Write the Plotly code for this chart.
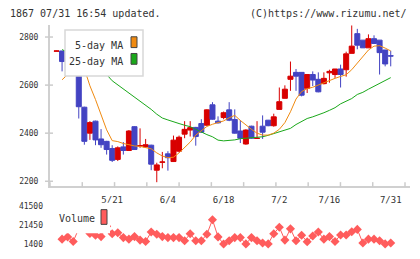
import plotly.graph_objects as go

# ---- data ----
dates = ["5/7","5/8","5/9","5/10","5/13","5/14","5/15","5/16","5/17","5/20",
         "5/21","5/22","5/23","5/24","5/27","5/28","5/29","5/30","5/31","6/3",
         "6/4","6/5","6/6","6/7","6/10","6/11","6/12","6/13","6/14","6/17",
         "6/18","6/19","6/20","6/21","6/24","6/25","6/26","6/27","6/28","7/1",
         "7/2","7/3","7/4","7/5","7/8","7/9","7/10","7/11","7/12","7/16",
         "7/17","7/18","7/19","7/22","7/23","7/24","7/25","7/26","7/29","7/30","7/31"]
opens  = [2741,2742,2709,2706,2698,2508,2400,2450,2376,2366,
          2336,2291,2343,2328,2427,2347,2343,2350,2246,2279,
          2314,2282,2325,2396,2413,2424,2440,2433,2518,2450,
          2465,2497,2457,2409,2355,2429,2378,2429,2454,2431,
          2499,2545,2624,2653,2653,2587,2644,2624,2606,2651,
          2644,2667,2664,2732,2814,2787,2755,2793,2787,2746,2722]
highs  = [2743,2742,2734,2739,2712,2510,2450,2452,2417,2368,
          2350,2345,2363,2413,2429,2420,2376,2352,2277,2322,
          2325,2390,2390,2450,2450,2426,2458,2499,2529,2470,
          2490,2529,2499,2454,2416,2431,2450,2474,2455,2481,
          2590,2599,2698,2667,2653,2644,2657,2653,2653,2664,
          2667,2685,2739,2848,2834,2787,2811,2807,2787,2746,2743]
lows   = [2741,2657,2697,2698,2461,2352,2372,2350,2339,2311,
          2280,2284,2311,2326,2330,2339,2339,2246,2196,2254,
          2244,2280,2320,2379,2386,2348,2402,2431,2456,2440,
          2458,2450,2398,2359,2352,2377,2376,2376,2429,2427,
          2499,2545,2576,2576,2553,2567,2596,2570,2603,2610,
          2630,2590,2635,2732,2749,2755,2755,2773,2644,2678,2678]
closes = [2742,2698,2708,2705,2510,2366,2444,2372,2352,2332,
          2287,2339,2328,2409,2332,2348,2352,2271,2268,2280,
          2298,2371,2383,2416,2423,2386,2404,2497,2458,2443,
          2485,2454,2400,2379,2413,2379,2379,2404,2431,2468,
          2531,2583,2637,2637,2558,2644,2621,2572,2628,2657,
          2667,2644,2730,2762,2766,2755,2793,2773,2735,2688,2721]
ma5  = [None,2622,2644,2652,2656,2668,2597,2540,2481,2414,
        2369,2365,2357,2351,2347,2345,2339,2335,2318,2305,
        2298,2300,2318,2339,2363,2392,2412,2428,2437,2445,
        2451,2464,2474,2453,2433,2416,2400,2392,2392,2400,
        2416,2444,2489,2542,2573,2585,2591,2601,2611,2620,
        2628,2636,2643,2664,2693,2721,2746,2762,2764,2754,2742]
ma25 = [None,2748,2737,2723,2710,2697,2684,2670,2657,2644,
        2618,2601,2586,2567,2550,2532,2518,2499,2479,2463,
        2455,2446,2440,2433,2427,2416,2404,2394,2385,2371,
        2368,2369,2372,2377,2379,2380,2382,2385,2391,2398,
        2406,2412,2420,2436,2449,2461,2468,2475,2485,2495,
        2506,2522,2534,2544,2561,2570,2583,2595,2605,2620,2631]
volume = [None,6490,8830,4050,17500,41500,12500,10560,9140,20000,
          12190,13210,8120,6490,9140,5470,4050,13920,11580,9140,
          8120,8120,8120,4760,12190,4760,4760,11580,26850,8830,
          1400,4760,8120,8120,1500,8120,4760,2420,1500,12190,
          19010,5470,17280,4760,10560,3740,9850,13920,6490,9140,
          4050,10870,10870,14230,16670,2420,6490,6490,4760,1500,2420]
x_labels = ["5/21", "6/4", "6/18", "7/2", "7/16", "7/31"]
price_ticks = [2200, 2400, 2600, 2800]
vol_ticks = [1400, 21450, 41500]

idx = list(range(len(dates)))
label_idx = [dates.index(d) for d in x_labels]

RED = "#d80000"
BLUE = "#4343c2"
ORANGE = "#f08a10"
GREEN = "#1aa81a"
VOLC = "#ff5c5c"
MONO = "DejaVu Sans Mono"

W, H = 420, 259
ML, MR, MT, MB = 50, 10, 25, 11
PW, PH = W - ML - MR, H - MT - MB

def px(x):
    return (x - ML) / PW

def py(y):
    return (H - MB - y) / PH

fig = go.Figure()
fig.add_trace(go.Scatter(x=idx, y=ma25, mode="lines", line=dict(color=GREEN, width=1),
                         xaxis="x", yaxis="y", showlegend=False, hoverinfo="skip"))
fig.add_trace(go.Scatter(x=idx, y=ma5, mode="lines", line=dict(color=ORANGE, width=1),
                         xaxis="x", yaxis="y", showlegend=False, hoverinfo="skip"))
fig.add_trace(go.Candlestick(
    x=idx, open=opens, high=highs, low=lows, close=closes,
    increasing=dict(line=dict(color=RED, width=1), fillcolor=RED),
    decreasing=dict(line=dict(color=BLUE, width=1), fillcolor=BLUE),
    whiskerwidth=0, showlegend=False, xaxis="x", yaxis="y"))
fig.add_trace(go.Scatter(x=idx, y=volume, mode="lines+markers",
                         line=dict(color=VOLC, width=1),
                         marker=dict(symbol="diamond", size=7, color=VOLC),
                         cliponaxis=False,
                         xaxis="x2", yaxis="y2", showlegend=False))

xr = [-1.167, 63.46]
p_top = py(25)
p_bot = py(189)
v_top = py(209)
v_bot = py(248)

shapes = []
# x tick marks (11 evenly spaced divisions)
for k in range(12):
    xx = 50 + k * (405 - 50) / 11
    shapes.append(dict(type="line", xref="paper", yref="paper",
                       x0=px(xx), x1=px(xx), y0=py(190), y1=py(185),
                       line=dict(color="#cccccc", width=1.5)))
# y tick marks crossing axis
for t in price_ticks:
    shapes.append(dict(type="line", xref="paper", yref="y",
                       x0=px(45), x1=px(53), y0=t, y1=t,
                       line=dict(color="#cccccc", width=1.5)))
# legend boxes (drawn above the lines)
shapes.append(dict(type="rect", xref="paper", yref="paper", layer="above",
                   x0=px(65), x1=px(143), y0=py(77), y1=py(30),
                   fillcolor="white", line=dict(color="#d8d8d8", width=1.5)))
shapes.append(dict(type="rect", xref="paper", yref="paper", layer="above",
                   x0=px(131), x1=px(137), y0=py(48), y1=py(37),
                   fillcolor=ORANGE, line=dict(color="#444444", width=1)))
shapes.append(dict(type="rect", xref="paper", yref="paper", layer="above",
                   x0=px(131), x1=px(137), y0=py(65), y1=py(54),
                   fillcolor=GREEN, line=dict(color="#444444", width=1)))
shapes.append(dict(type="rect", xref="paper", yref="paper", layer="above",
                   x0=px(56), x1=px(110), y0=py(237), y1=py(206),
                   fillcolor="white", line=dict(width=0)))
shapes.append(dict(type="rect", xref="paper", yref="paper", layer="above",
                   x0=px(78), x1=px(92), y0=py(207), y1=py(201),
                   fillcolor="white", line=dict(width=0)))
shapes.append(dict(type="rect", xref="paper", yref="paper", layer="above",
                   x0=px(101), x1=px(107), y0=py(228), y1=py(213),
                   fillcolor=VOLC, line=dict(color="#444444", width=1)))

annotations = [
    dict(text="1867 07/31 16:54 updated.", xref="paper", yref="paper",
         x=px(8), y=py(13), xanchor="left", yanchor="middle", showarrow=False,
         font=dict(family=MONO, size=10, color="#333333")),
    dict(text="(C)https://www.rizumu.net/", xref="paper", yref="paper",
         x=px(409), y=py(13), xanchor="right", yanchor="middle", showarrow=False,
         font=dict(family=MONO, size=10, color="#333333")),
    dict(text="5-day MA", xref="paper", yref="paper",
         x=px(125), y=py(45.5), xanchor="right", yanchor="middle", showarrow=False,
         font=dict(family=MONO, size=10, color="#333333")),
    dict(text="25-day MA", xref="paper", yref="paper",
         x=px(125), y=py(62.5), xanchor="right", yanchor="middle", showarrow=False,
         font=dict(family=MONO, size=10, color="#333333")),
    dict(text="Volume", xref="paper", yref="paper",
         x=px(57), y=py(222), xanchor="left", yanchor="middle", showarrow=False,
         font=dict(family=MONO, size=10, color="#333333")),
]

fig.update_layout(
    width=W, height=H,
    margin=dict(l=ML, r=MR, t=MT, b=MB),
    paper_bgcolor="white", plot_bgcolor="white",
    boxgap=0.1, boxgroupgap=0,
    showlegend=False,
    xaxis=dict(domain=[0, 1], anchor="y", range=xr, rangeslider=dict(visible=False),
               tickvals=label_idx, ticktext=x_labels, ticks="", ticklabelstandoff=4,
               showgrid=False, zeroline=False, showline=True, linecolor="#d0d0d0",
               linewidth=2, tickfont=dict(family=MONO, size=9, color="#333333")),
    yaxis=dict(domain=[p_bot, p_top], anchor="x", range=[2180, 2850],
               tickvals=price_ticks, ticktext=[str(t) for t in price_ticks],
               ticks="", ticklabelstandoff=8, showgrid=False, zeroline=False,
               showline=True, linecolor="#d0d0d0", linewidth=2,
               tickfont=dict(family=MONO, size=8, color="#333333")),
    xaxis2=dict(domain=[0, 1], anchor="y2", range=xr, showticklabels=False,
                showgrid=False, zeroline=False, showline=False, ticks=""),
    yaxis2=dict(domain=[v_bot, v_top], anchor="x2", range=[1400, 41500],
                tickvals=vol_ticks, ticktext=[str(t) for t in vol_ticks],
                ticks="", ticklabelstandoff=6, showgrid=False, zeroline=False,
                showline=False, tickfont=dict(family=MONO, size=8, color="#333333")),
    shapes=shapes, annotations=annotations,
)

fig.write_html("out.html")
